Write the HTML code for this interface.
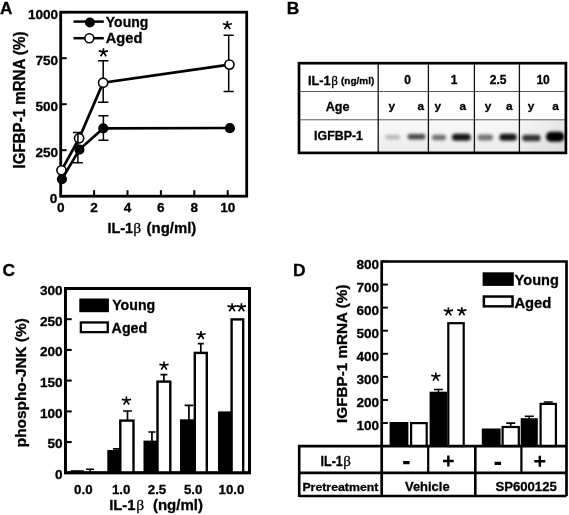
<!DOCTYPE html>
<html><head><meta charset="utf-8"><title>Figure</title>
<style>
html,body{margin:0;padding:0;background:#fff;}
body{width:569px;height:515px;overflow:hidden;}
svg{display:block;filter:blur(0.4px);font-family:"Liberation Sans",sans-serif;font-weight:bold;fill:#000;}
text{stroke:#000;stroke-width:0.3px;}
</style></head><body>
<svg width="569" height="515" viewBox="0 0 569 515">
<rect width="569" height="515" fill="#fff"/>
<g id="A">
<text x="-0.1" y="13.7" font-size="17.2" text-anchor="start">A</text>
<rect x="60.7" y="12.2" width="186.0" height="184.0" fill="none" stroke="#000" stroke-width="2.8"/>
<path d="M60.7 12.2h6" stroke="#000" stroke-width="2"/>
<text x="58.2" y="18.9" font-size="13.6" text-anchor="end">1000</text>
<path d="M60.7 58.2h6" stroke="#000" stroke-width="2"/>
<text x="58.2" y="64.9" font-size="13.6" text-anchor="end">750</text>
<path d="M60.7 104.2h6" stroke="#000" stroke-width="2"/>
<text x="58.2" y="110.9" font-size="13.6" text-anchor="end">500</text>
<path d="M60.7 150.2h6" stroke="#000" stroke-width="2"/>
<text x="58.2" y="156.9" font-size="13.6" text-anchor="end">250</text>
<path d="M60.7 196.2h6" stroke="#000" stroke-width="2"/>
<text x="57.4" y="202.9" font-size="13.6" text-anchor="end">0</text>
<path d="M60.7 196.2v-6" stroke="#000" stroke-width="2"/>
<text x="60.7" y="212.4" font-size="13.6" text-anchor="middle">0</text>
<path d="M94.1 196.2v-6" stroke="#000" stroke-width="2"/>
<text x="94.1" y="212.4" font-size="13.6" text-anchor="middle">2</text>
<path d="M127.5 196.2v-6" stroke="#000" stroke-width="2"/>
<text x="127.5" y="212.4" font-size="13.6" text-anchor="middle">4</text>
<path d="M160.9 196.2v-6" stroke="#000" stroke-width="2"/>
<text x="160.9" y="212.4" font-size="13.6" text-anchor="middle">6</text>
<path d="M194.3 196.2v-6" stroke="#000" stroke-width="2"/>
<text x="194.3" y="212.4" font-size="13.6" text-anchor="middle">8</text>
<path d="M227.7 196.2v-6" stroke="#000" stroke-width="2"/>
<text x="227.7" y="212.4" font-size="13.6" text-anchor="middle">10</text>
<text transform="translate(25.2 100) rotate(-90)" font-size="15.8" text-anchor="middle" textLength="137" lengthAdjust="spacingAndGlyphs">IGFBP-1 mRNA (%)</text>
<text x="107.4" y="233.4" font-size="14.6" text-anchor="start" textLength="25.6" lengthAdjust="spacingAndGlyphs">IL-1</text>
<text x="133.3" y="233.4" font-size="15.5" font-family="Liberation Serif" font-weight="normal">β</text>
<text x="146.6" y="233.4" font-size="14.6" text-anchor="start" textLength="49.7" lengthAdjust="spacingAndGlyphs">(ng/ml)</text>
<path d="M73.5 21.6H103.8" stroke="#000" stroke-width="2.5"/><circle cx="89.9" cy="22.5" r="5" fill="#000"/>
<text x="105.8" y="26.8" font-size="14.6" text-anchor="start" textLength="42.5" lengthAdjust="spacingAndGlyphs">Young</text>
<path d="M73.5 38.2H103.8" stroke="#000" stroke-width="2.5"/><circle cx="89.3" cy="38.2" r="4.5" fill="#fff" stroke="#000" stroke-width="1.6"/>
<text x="105.8" y="42.9" font-size="14.6" text-anchor="start" textLength="36.6" lengthAdjust="spacingAndGlyphs">Aged</text>
<path d="M103.2 60.8L103.2 102.3M97.95 60.8L108.45 60.8M97.95 102.3L108.45 102.3" stroke="#000" stroke-width="1.5" fill="none"/>
<path d="M228.7 35.2L228.7 91.5M223.6 35.2L233.79999999999998 35.2M223.6 91.5L233.79999999999998 91.5" stroke="#000" stroke-width="1.5" fill="none"/>
<polyline points="61.5,170.3 79.1,138.3 103.1,82.7 229.4,64.6" fill="none" stroke="#000" stroke-width="2.7"/>
<circle cx="61.5" cy="170.3" r="4.6" fill="#fff" stroke="#000" stroke-width="1.6"/>
<circle cx="79.1" cy="138.3" r="4.6" fill="#fff" stroke="#000" stroke-width="1.6"/>
<circle cx="103.1" cy="82.7" r="4.6" fill="#fff" stroke="#000" stroke-width="1.6"/>
<circle cx="229.4" cy="64.6" r="4.6" fill="#fff" stroke="#000" stroke-width="1.6"/>
<path d="M77.9 132.5L77.9 162.7M72.9 132.5L82.9 132.5M72.9 162.7L82.9 162.7" stroke="#000" stroke-width="1.5" fill="none"/>
<path d="M103.4 115.8L103.4 140.2M98.4 115.8L108.4 115.8M98.4 140.2L108.4 140.2" stroke="#000" stroke-width="1.5" fill="none"/>
<polyline points="61.9,179.1 79.4,149.6 103.3,128.3 229.7,128" fill="none" stroke="#000" stroke-width="2.7"/>
<circle cx="61.9" cy="179.1" r="5.1" fill="#000"/>
<circle cx="79.4" cy="149.6" r="5.1" fill="#000"/>
<circle cx="103.3" cy="128.3" r="5.1" fill="#000"/>
<circle cx="229.9" cy="128.2" r="5.1" fill="#000"/>
<path d="M103.40 51.90L103.40 48.20M103.40 51.90L108.00 50.92M103.40 51.90L98.80 50.92M103.40 51.90L106.18 56.18M103.40 51.90L100.62 56.18" stroke="#000" stroke-width="1.65" fill="none" stroke-linecap="butt"/>
<path d="M227.30 24.70L227.30 21.00M227.30 24.70L231.90 23.72M227.30 24.70L222.70 23.72M227.30 24.70L230.08 28.98M227.30 24.70L224.52 28.98" stroke="#000" stroke-width="1.65" fill="none" stroke-linecap="butt"/>
</g>
<g id="B">
<text x="286.7" y="14.4" font-size="17.4" text-anchor="start">B</text>
<defs><linearGradient id="bg" x1="0" y1="0" x2="0" y2="1"><stop offset="0" stop-color="#fafafa"/><stop offset="0.5" stop-color="#f3f3f3"/><stop offset="1" stop-color="#ebebeb"/></linearGradient><linearGradient id="bg2" x1="0" y1="0" x2="1" y2="0"><stop offset="0" stop-color="#000" stop-opacity="0"/><stop offset="0.7" stop-color="#000" stop-opacity="0"/><stop offset="1" stop-color="#000" stop-opacity="0.07"/></linearGradient><filter id="bl" x="-30%" y="-100%" width="160%" height="300%"><feGaussianBlur stdDeviation="1.8 1.4"/></filter></defs>
<rect x="378.5" y="120" width="187.5" height="33" fill="url(#bg)"/>
<rect x="378.5" y="120" width="187.5" height="33" fill="url(#bg2)"/>
<g filter="url(#bl)">
<rect x="385.1" y="134.95" width="15" height="4.5" rx="2.25" fill="#b8b8b8"/>
<rect x="407.5" y="134.05" width="18" height="5.5" rx="2.75" fill="#484848"/>
<rect x="432.0" y="134.65" width="14" height="5.5" rx="2.75" fill="#707070"/>
<rect x="451.9" y="133.7" width="19" height="7" rx="3.5" fill="#141414"/>
<rect x="477.55" y="134.5" width="15.5" height="6" rx="3.0" fill="#757575"/>
<rect x="499.35" y="133.7" width="17.5" height="7" rx="3.5" fill="#141414"/>
<rect x="522.15" y="134.65" width="18.5" height="6.5" rx="3.25" fill="#303030"/>
<rect x="545.95" y="131.8" width="18.5" height="10" rx="5.0" fill="#000"/>
</g>
<path d="M299 91.5H566M299 119.8H566" stroke="#444" stroke-width="0.9"/>
<path d="M378.2 63V153M428.4 63V153M474.4 63V153M519.4 63V153" stroke="#111" stroke-width="1.3"/>
<rect x="299" y="63.2" width="266.9" height="89.7" fill="none" stroke="#000" stroke-width="2.7"/>
<text x="308" y="84.6" font-size="12.8" text-anchor="start" textLength="22.6" lengthAdjust="spacingAndGlyphs">IL-1</text>
<text x="331.2" y="84.6" font-size="13.2" font-family="Liberation Serif" font-weight="normal">β</text>
<text x="341" y="84.4" font-size="9.8" text-anchor="start" textLength="33.3" lengthAdjust="spacingAndGlyphs">(ng/ml)</text>
<text x="325.7" y="111.1" font-size="12.6" text-anchor="start" textLength="23.9" lengthAdjust="spacingAndGlyphs">Age</text>
<text x="314.1" y="140.3" font-size="12.4" text-anchor="start" textLength="48.8" lengthAdjust="spacingAndGlyphs">IGFBP-1</text>
<text x="407.5" y="84.2" font-size="12" text-anchor="middle">0</text>
<text x="454" y="84.2" font-size="12" text-anchor="middle">1</text>
<text x="498.1" y="84.2" font-size="12" text-anchor="middle">2.5</text>
<text x="543.1" y="84.2" font-size="12" text-anchor="middle">10</text>
<text x="391.7" y="110" font-size="11.8" text-anchor="middle">y</text>
<text x="420.7" y="110" font-size="11.8" text-anchor="middle">a</text>
<text x="437.9" y="110" font-size="11.8" text-anchor="middle">y</text>
<text x="462.9" y="110" font-size="11.8" text-anchor="middle">a</text>
<text x="488" y="110" font-size="11.8" text-anchor="middle">y</text>
<text x="509.4" y="110" font-size="11.8" text-anchor="middle">a</text>
<text x="531" y="110" font-size="11.8" text-anchor="middle">y</text>
<text x="555.6" y="110" font-size="11.8" text-anchor="middle">a</text>
</g>
<g id="C">
<text x="2.6" y="276.3" font-size="17.4" text-anchor="start">C</text>
<rect x="65.4" y="288.5" width="184.1" height="184.3" fill="none" stroke="#000" stroke-width="2.8"/>
<path d="M65.4 288.5h6.3" stroke="#000" stroke-width="2"/>
<text x="62.6" y="294.8" font-size="13.6" text-anchor="end">300</text>
<path d="M65.4 319.2h6.3" stroke="#000" stroke-width="2"/>
<text x="62.6" y="325.5" font-size="13.6" text-anchor="end">250</text>
<path d="M65.4 349.9h6.3" stroke="#000" stroke-width="2"/>
<text x="62.6" y="356.2" font-size="13.6" text-anchor="end">200</text>
<path d="M65.4 380.6h6.3" stroke="#000" stroke-width="2"/>
<text x="62.6" y="386.9" font-size="13.6" text-anchor="end">150</text>
<path d="M65.4 411.4h6.3" stroke="#000" stroke-width="2"/>
<text x="62.6" y="417.7" font-size="13.6" text-anchor="end">100</text>
<path d="M65.4 442.1h6.3" stroke="#000" stroke-width="2"/>
<text x="62.6" y="448.4" font-size="13.6" text-anchor="end">50</text>
<path d="M65.4 472.8h6.3" stroke="#000" stroke-width="2"/>
<text x="62.6" y="479.1" font-size="13.6" text-anchor="end">0</text>
<rect x="70.7" y="470.2" width="13.00" height="2.60" fill="#000"/>
<path d="M116.44999999999999 448.8L116.44999999999999 451.0M112.94999999999999 448.8L119.94999999999999 448.8" stroke="#000" stroke-width="1.7" fill="none"/>
<rect x="107.3" y="450.0" width="13.10" height="22.80" fill="#000"/>
<path d="M151.95 432L151.95 441.6M148.35 432L155.54999999999998 432" stroke="#000" stroke-width="1.7" fill="none"/>
<rect x="143.5" y="440.6" width="13.70" height="32.20" fill="#000"/>
<path d="M188.9 405.3L188.9 420.3M184.6 405.3L193.20000000000002 405.3" stroke="#000" stroke-width="1.7" fill="none"/>
<rect x="180" y="419.3" width="15.00" height="53.50" fill="#000"/>
<rect x="218" y="411.4" width="13.00" height="61.40" fill="#000"/>
<path d="M127.49999999999999 411L127.49999999999999 420.4M122.99999999999999 411L132.0 411" stroke="#000" stroke-width="1.7" fill="none"/>
<rect x="120.30" y="420.60" width="13.20" height="52.20" fill="#fff" stroke="#000" stroke-width="2.4"/>
<path d="M163.9 374.6L163.9 381.4M160.4 374.6L167.4 374.6" stroke="#000" stroke-width="1.7" fill="none"/>
<rect x="157.50" y="381.60" width="12.80" height="91.20" fill="#fff" stroke="#000" stroke-width="2.4"/>
<path d="M200.8 343.6L200.8 352.7M197.8 343.6L203.8 343.6" stroke="#000" stroke-width="1.7" fill="none"/>
<rect x="194.80" y="352.90" width="12.00" height="119.90" fill="#fff" stroke="#000" stroke-width="2.4"/>
<rect x="231.60" y="319.40" width="11.60" height="153.40" fill="#fff" stroke="#000" stroke-width="2.4"/>
<path d="M90.1 469.3L90.1 472M86.1 469.3L94.1 469.3" stroke="#000" stroke-width="1.6" fill="none"/>
<rect x="65.4" y="288.5" width="184.1" height="184.3" fill="none" stroke="#000" stroke-width="2.8"/>
<path d="M126.40 400.30L126.40 396.60M126.40 400.30L131.00 399.32M126.40 400.30L121.80 399.32M126.40 400.30L129.18 404.58M126.40 400.30L123.62 404.58" stroke="#000" stroke-width="1.65" fill="none" stroke-linecap="butt"/>
<path d="M164.00 365.30L164.00 361.60M164.00 365.30L168.60 364.32M164.00 365.30L159.40 364.32M164.00 365.30L166.78 369.58M164.00 365.30L161.22 369.58" stroke="#000" stroke-width="1.65" fill="none" stroke-linecap="butt"/>
<path d="M201.00 334.70L201.00 331.00M201.00 334.70L205.60 333.72M201.00 334.70L196.40 333.72M201.00 334.70L203.78 338.98M201.00 334.70L198.22 338.98" stroke="#000" stroke-width="1.65" fill="none" stroke-linecap="butt"/>
<path d="M232.10 306.90L232.10 303.20M232.10 306.90L236.70 305.92M232.10 306.90L227.50 305.92M232.10 306.90L234.88 311.18M232.10 306.90L229.32 311.18" stroke="#000" stroke-width="1.65" fill="none" stroke-linecap="butt"/>
<path d="M241.40 306.90L241.40 303.20M241.40 306.90L246.00 305.92M241.40 306.90L236.80 305.92M241.40 306.90L244.18 311.18M241.40 306.90L238.62 311.18" stroke="#000" stroke-width="1.65" fill="none" stroke-linecap="butt"/>
<rect x="79.3" y="298.5" width="29.6" height="13.7" fill="#000"/>
<text x="112.2" y="310.3" font-size="14.8" text-anchor="start" textLength="43" lengthAdjust="spacingAndGlyphs">Young</text>
<rect x="80.85" y="322.45" width="26.9" height="9.7" fill="#fff" stroke="#000" stroke-width="2.3"/>
<text x="111.6" y="332.8" font-size="14.8" text-anchor="start" textLength="35.6" lengthAdjust="spacingAndGlyphs">Aged</text>
<text x="83.3" y="494" font-size="13.3" text-anchor="middle">0.0</text>
<text x="121.2" y="494" font-size="13.3" text-anchor="middle">1.0</text>
<text x="157" y="494" font-size="13.3" text-anchor="middle">2.5</text>
<text x="193.2" y="494" font-size="13.3" text-anchor="middle">5.0</text>
<text x="231.5" y="494" font-size="13.3" text-anchor="middle">10.0</text>
<text x="109.2" y="510.4" font-size="14.5" text-anchor="start" textLength="26.3" lengthAdjust="spacingAndGlyphs">IL-1</text>
<text x="136.2" y="510.4" font-size="15.5" font-family="Liberation Serif" font-weight="normal">β</text>
<text x="152.9" y="510.4" font-size="14.5" text-anchor="start" textLength="50" lengthAdjust="spacingAndGlyphs">(ng/ml)</text>
<text transform="translate(25.5 382.7) rotate(-90)" font-size="15.4" text-anchor="middle" textLength="129" lengthAdjust="spacingAndGlyphs">phospho-JNK (%)</text>
</g>
<g id="D">
<text x="293" y="276.2" font-size="17.4" text-anchor="start">D</text>
<path d="M381.7 423.0h6.2" stroke="#000" stroke-width="1.9"/>
<text x="379.2" y="430.2" font-size="13.6" text-anchor="end">100</text>
<path d="M381.7 400.0h6.2" stroke="#000" stroke-width="1.9"/>
<text x="379.2" y="407.2" font-size="13.6" text-anchor="end">200</text>
<path d="M381.7 376.9h6.2" stroke="#000" stroke-width="1.9"/>
<text x="379.2" y="384.1" font-size="13.6" text-anchor="end">300</text>
<path d="M381.7 353.8h6.2" stroke="#000" stroke-width="1.9"/>
<text x="379.2" y="361.0" font-size="13.6" text-anchor="end">400</text>
<path d="M381.7 330.7h6.2" stroke="#000" stroke-width="1.9"/>
<text x="379.2" y="337.9" font-size="13.6" text-anchor="end">500</text>
<path d="M381.7 307.6h6.2" stroke="#000" stroke-width="1.9"/>
<text x="379.2" y="314.8" font-size="13.6" text-anchor="end">600</text>
<path d="M381.7 284.6h6.2" stroke="#000" stroke-width="1.9"/>
<text x="379.2" y="291.8" font-size="13.6" text-anchor="end">700</text>
<path d="M381.7 261.5h6.2" stroke="#000" stroke-width="1.9"/>
<text x="379.2" y="268.7" font-size="13.6" text-anchor="end">800</text>
<rect x="389.6" y="422" width="18.80" height="24.10" fill="#000"/>
<path d="M438.4 389.5L438.4 392.7M433.9 389.5L442.9 389.5" stroke="#000" stroke-width="1.6" fill="none"/>
<rect x="429.6" y="391.7" width="17.60" height="54.40" fill="#000"/>
<rect x="481.8" y="428.5" width="18.80" height="17.60" fill="#000"/>
<path d="M529.25 416.3L529.25 419.2M524.75 416.3L533.75 416.3" stroke="#000" stroke-width="1.6" fill="none"/>
<rect x="520.7" y="418.2" width="17.10" height="27.90" fill="#000"/>
<rect x="411.10" y="423.10" width="15.60" height="23.00" fill="#fff" stroke="#000" stroke-width="2.2"/>
<rect x="448.30" y="323.20" width="15.40" height="122.90" fill="#fff" stroke="#000" stroke-width="2.2"/>
<path d="M510.7 423.1L510.7 426.9M506.2 423.1L515.2 423.1" stroke="#000" stroke-width="1.6" fill="none"/>
<rect x="502.60" y="427.00" width="16.20" height="19.10" fill="#fff" stroke="#000" stroke-width="2.2"/>
<path d="M548.25 402.0L548.25 403.8M543.75 402.0L552.75 402.0" stroke="#000" stroke-width="1.6" fill="none"/>
<rect x="540.60" y="403.90" width="15.30" height="42.20" fill="#fff" stroke="#000" stroke-width="2.2"/>
<path d="M381.7 496V261.5H566.5V496" fill="none" stroke="#000" stroke-width="2.7"/>
<path d="M299.2 446.1H566.5M299.2 472.9H566.5M299.2 496H566.5M299.2 444.8V497.1M475.3 446V496" fill="none" stroke="#000" stroke-width="2.6"/>
<path d="M428.2 446V473M521.4 446V473" stroke="#000" stroke-width="2.2"/>
<text x="320.6" y="466" font-size="13.8" text-anchor="start" textLength="22.2" lengthAdjust="spacingAndGlyphs">IL-1</text>
<text x="343.2" y="466" font-size="15" font-family="Liberation Serif" font-weight="normal">β</text>
<text x="302.4" y="490.9" font-size="11" text-anchor="start" textLength="76" lengthAdjust="spacingAndGlyphs">Pretreatment</text>
<text x="405" y="491.3" font-size="12.8" text-anchor="start" textLength="44.6" lengthAdjust="spacingAndGlyphs">Vehicle</text>
<text x="495.4" y="491.4" font-size="12.8" text-anchor="start" textLength="61.4" lengthAdjust="spacingAndGlyphs">SP600125</text>
<path d="M403.2 462.6h6.4M494.6 463.4h6.4" stroke="#000" stroke-width="3.2"/>
<path d="M443 461h10.7M448.35 455.5v11M534.3 461.3h11M539.8 455.8v11" stroke="#000" stroke-width="2.4"/>
<path d="M435.80 376.30L435.80 372.60M435.80 376.30L440.40 375.32M435.80 376.30L431.20 375.32M435.80 376.30L438.58 380.58M435.80 376.30L433.02 380.58" stroke="#000" stroke-width="1.65" fill="none" stroke-linecap="butt"/>
<path d="M448.40 311.10L448.40 307.40M448.40 311.10L453.00 310.12M448.40 311.10L443.80 310.12M448.40 311.10L451.18 315.38M448.40 311.10L445.62 315.38" stroke="#000" stroke-width="1.65" fill="none" stroke-linecap="butt"/>
<path d="M461.80 310.90L461.80 307.20M461.80 310.90L466.40 309.92M461.80 310.90L457.20 309.92M461.80 310.90L464.58 315.18M461.80 310.90L459.02 315.18" stroke="#000" stroke-width="1.65" fill="none" stroke-linecap="butt"/>
<rect x="482.6" y="272.3" width="31.2" height="13.6" fill="#000"/>
<text x="514.6" y="285.4" font-size="15.2" text-anchor="start" textLength="44.3" lengthAdjust="spacingAndGlyphs">Young</text>
<rect x="483.85" y="296.55" width="28.7" height="9.8" fill="#fff" stroke="#000" stroke-width="2.5"/>
<text x="514.4" y="307.5" font-size="15.2" text-anchor="start" textLength="37" lengthAdjust="spacingAndGlyphs">Aged</text>
<text transform="translate(347 353.7) rotate(-90)" font-size="15.3" text-anchor="middle" textLength="138.4" lengthAdjust="spacingAndGlyphs">IGFBP-1 mRNA (%)</text>
</g>
</svg>
</body></html>
